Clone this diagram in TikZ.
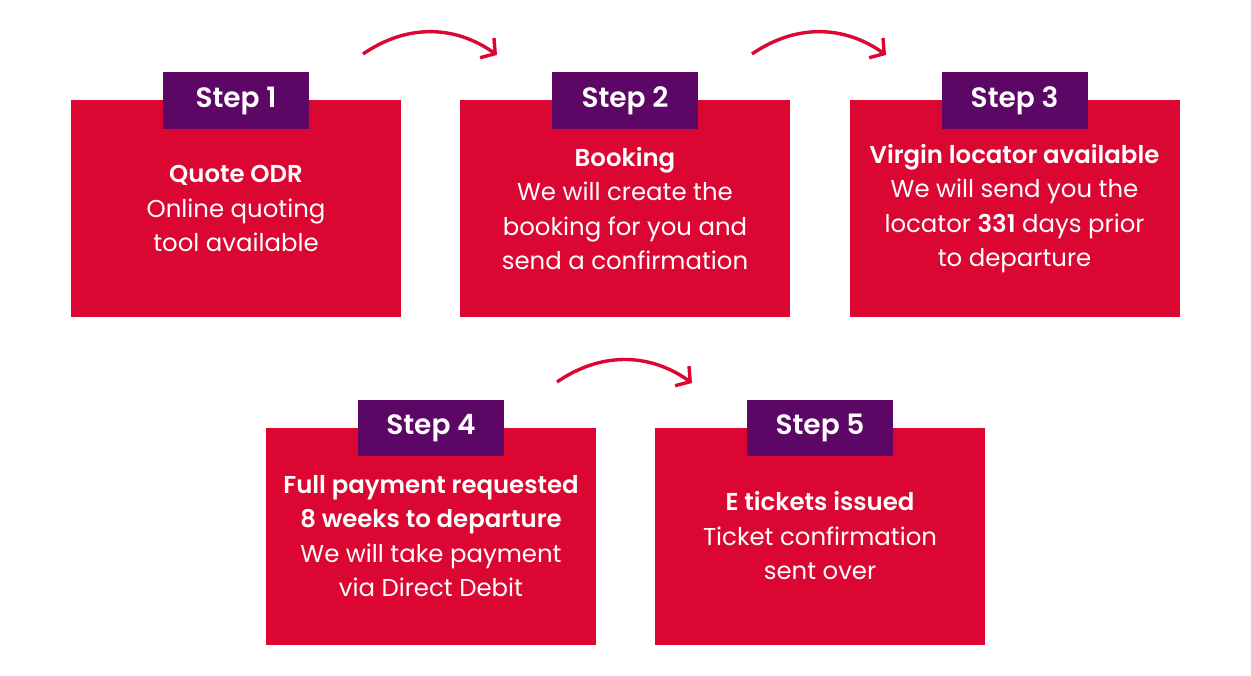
\documentclass[tikz,border=0pt]{standalone}
\usepackage{fontspec}
\setmainfont{Poppins}[BoldFont={Poppins SemiBold}]
\usetikzlibrary{arrows.meta}
\definecolor{stepred}{HTML}{DC0632}
\definecolor{steppurple}{HTML}{5C0766}
\newcommand*{\bodystyle}{\fontsize{12.2}{17.25}\selectfont\color{white}}
\newcommand*{\tabstyle}{\fontsize{14}{17}\selectfont\bfseries\color{white}}

\begin{document}
\begin{tikzpicture}[x=0.5pt, y=-0.5pt,
    box/.style = {fill=stepred, minimum width=165pt, minimum height=108.5pt, inner sep=0pt},
    tab/.style = {fill=steppurple, minimum width=73pt, minimum height=28.25pt, inner sep=0pt, font=\tabstyle},
    body/.style = {align=center, font=\bodystyle},
    flow/.style = {stepred, line width=1.7pt, -{Straight Barb[length=5pt, width=12pt]}}]
  \useasboundingbox (0,0) rectangle (1251,675);
  % boxes, tabs and texts
  \foreach \n/\x/\y/\txt in {%
      1/236/208.5/{\textbf{Quote ODR}\\Online quoting\\tool available},
      2/625/208.5/{\textbf{Booking}\\We will create the\\booking for you and\\send a confirmation},
      3/1014.5/208.5/{\textbf{Virgin locator available}\\We will send you the\\locator \textbf{331} days prior\\to departure},
      4/431/536/{\textbf{Full payment requested}\\\textbf{8 weeks to departure}\\We will take payment\\via Direct Debit},
      5/820/536/{\textbf{E tickets issued}\\Ticket confirmation\\sent over}} {
    \node[box] (box\n) at (\x,\y) {};
    \node[tab] (tab\n) at ([yshift=-0.5pt]box\n.north) {Step \n};
    \node[body] (txt\n) at (box\n.center) {\txt};
  }
  % arrows
  \coordinate (a1s) at (363,54);
  \coordinate (a1e) at (497,55);
  \coordinate (a2s) at (752,54);
  \coordinate (a2e) at (886,55);
  \coordinate (a3s) at (557,382);
  \coordinate (a3e) at (692,383);
  \draw[flow] (a1s) to[bend left=35] (a1e);
  \draw[flow] (a2s) to[bend left=35] (a2e);
  \draw[flow] (a3s) to[bend left=35] (a3e);
\end{tikzpicture}
\end{document}
